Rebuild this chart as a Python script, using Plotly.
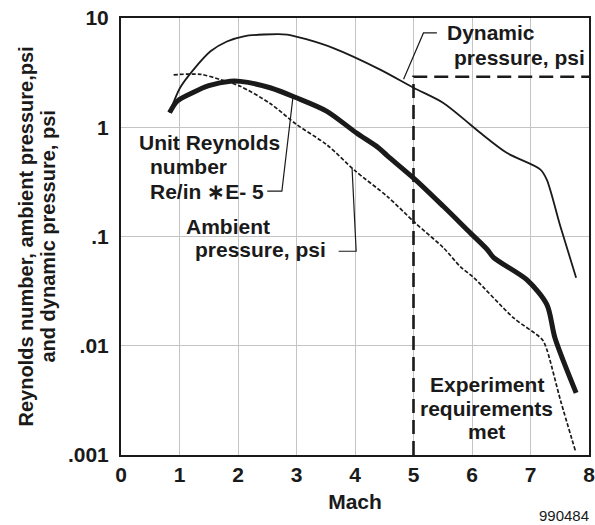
import math
import plotly.graph_objects as go

# ---- data ----
re_mach = [0.83, 0.96, 1.24, 1.5, 1.87, 2.04, 2.55, 3.0, 3.52, 4.02, 4.4, 4.55, 5.03, 5.51, 5.97, 6.26, 6.37, 6.94, 7.28, 7.42, 7.78]
re_val = [1.36, 1.73, 2.09, 2.4, 2.64, 2.63, 2.30, 1.86, 1.40, 0.89, 0.65, 0.55, 0.332, 0.189, 0.108, 0.076, 0.064, 0.040, 0.0238, 0.0117, 0.0037]

dyn_mach = [0.83, 1.01, 1.24, 1.53, 1.81, 2.1, 2.44, 2.84, 3.18, 3.63, 4.43, 5.0, 5.51, 5.97, 6.14, 6.6, 7.17, 7.28, 7.51, 7.78]
dyn_val = [1.36, 2.3, 3.37, 4.96, 6.1, 6.8, 7.06, 7.06, 6.36, 5.3, 3.37, 2.3, 1.67, 1.06, 0.89, 0.58, 0.41, 0.33, 0.124, 0.042]

amb_mach = [0.9, 1.36, 1.7, 2.04, 2.55, 3.0, 3.52, 4.0, 4.55, 5.03, 5.51, 5.8, 6.03, 6.71, 7.2, 7.28, 7.51, 7.77]
amb_val = [3.02, 3.05, 2.73, 2.37, 1.65, 1.06, 0.69, 0.40, 0.233, 0.133, 0.079, 0.053, 0.042, 0.018, 0.0114, 0.0092, 0.0032, 0.00108]

req_mach = [5, 5, 8]
req_val = [0.001, 2.9, 2.9]

x_ticks = [0, 1, 2, 3, 4, 5, 6, 7, 8]
y_ticks = [0.001, 0.01, 0.1, 1, 10]
y_tick_text = [".001", ".01", ".1", "1", "10"]

INK = "#1a1a1a"
FONT = "Liberation Sans, Arial, sans-serif"
FS = 21

fig = go.Figure()
fig.add_trace(go.Scatter(x=amb_mach, y=amb_val, mode="lines",
                         line=dict(color=INK, width=1.7, dash="4px,2px", shape="spline", smoothing=0.8)))
fig.add_trace(go.Scatter(x=dyn_mach, y=dyn_val, mode="lines",
                         line=dict(color=INK, width=1.8, shape="spline", smoothing=0.8)))
fig.add_trace(go.Scatter(x=re_mach, y=re_val, mode="lines",
                         line=dict(color=INK, width=5, shape="spline", smoothing=0.8)))
fig.add_trace(go.Scatter(x=req_mach, y=req_val, mode="lines",
                         line=dict(color=INK, width=2.6, dash="14px,7px")))

# leader lines (data coordinates)
leaders = [
    ([2.50, 2.75, 2.94], [0.26, 0.26, 1.9]),
    ([3.72, 4.02, 3.95], [0.0733, 0.0733, 0.42]),
    ([5.40, 5.17, 4.83], [7.3, 7.3, 2.75]),
]
for lx, ly_ in leaders:
    fig.add_trace(go.Scatter(x=lx, y=ly_, mode="lines", line=dict(color=INK, width=1.2)))


def label(text, x, y, anchor="left", size=FS, bold=True):
    fig.add_annotation(x=x, y=math.log10(y), xref="x", yref="y",
                       text=f"<b>{text}</b>" if bold else text,
                       showarrow=False, xanchor=anchor, yanchor="middle",
                       font=dict(family=FONT, size=size, color=INK))


label("Unit Reynolds", 0.28, 0.724)
label("number", 0.47, 0.436)
label("Re/in ∗E- 5", 0.47, 0.26)
label("Ambient", 1.83, 0.124, anchor="center")
label("pressure, psi", 3.54, 0.0758, anchor="right")
label("Dynamic", 5.54, 7.36)
label("pressure, psi", 7.97, 4.35, anchor="right")
label("Experiment", 6.25, 0.0044, anchor="center")
label("requirements", 6.25, 0.00265, anchor="center")
label("met", 6.25, 0.00164, anchor="center")

L, T, PW, PH = 121, 18, 468, 437
W, H = 595, 525

# y axis title in two lines
for txt, xpx in [("Reynolds number, ambient pressure,psi", 25), ("and dynamic pressure, psi", 47)]:
    fig.add_annotation(x=(xpx - L) / PW, y=0.5, xref="paper", yref="paper",
                       text=f"<b>{txt}</b>", textangle=-90, showarrow=False,
                       xanchor="center", yanchor="middle",
                       font=dict(family=FONT, size=20, color=INK))

fig.add_annotation(x=(591 - L) / PW, y=-60 / PH, xref="paper", yref="paper", text="990484",
                   showarrow=False, xanchor="right", yanchor="middle",
                   font=dict(family=FONT, size=15, color=INK))

fig.update_layout(
    width=W, height=H,
    margin=dict(l=L, r=W - L - PW, t=T, b=H - T - PH, autoexpand=False),
    paper_bgcolor="white", plot_bgcolor="white",
    showlegend=False,
    font=dict(family=FONT, size=FS, color=INK),
)
fig.update_xaxes(range=[0, 8], tickvals=x_ticks, ticktext=[f"<b>{t}</b>" for t in x_ticks],
                 showgrid=True, gridcolor="#c4c4c4", gridwidth=1,
                 showline=True, linecolor=INK, linewidth=2, mirror=True,
                 ticks="", zeroline=False, automargin=False, ticklabeloverflow="allow",
                 title=dict(text="<b>Mach</b>", font=dict(size=FS), standoff=9),
                 tickfont=dict(size=FS))
fig.update_yaxes(type="log", range=[-3, 1], tickvals=y_ticks, ticktext=[f"<b>{t}</b>" for t in y_tick_text],
                 showgrid=True, gridcolor="#c4c4c4", gridwidth=1,
                 showline=True, linecolor=INK, linewidth=2, mirror=True,
                 ticks="", zeroline=False, automargin=False, ticklabelstandoff=6,
                 ticklabeloverflow="allow", tickfont=dict(size=FS))

fig.write_html("out.html", config={"responsive": False, "displayModeBar": False},
               post_script="document.body.style.margin='0px';")
